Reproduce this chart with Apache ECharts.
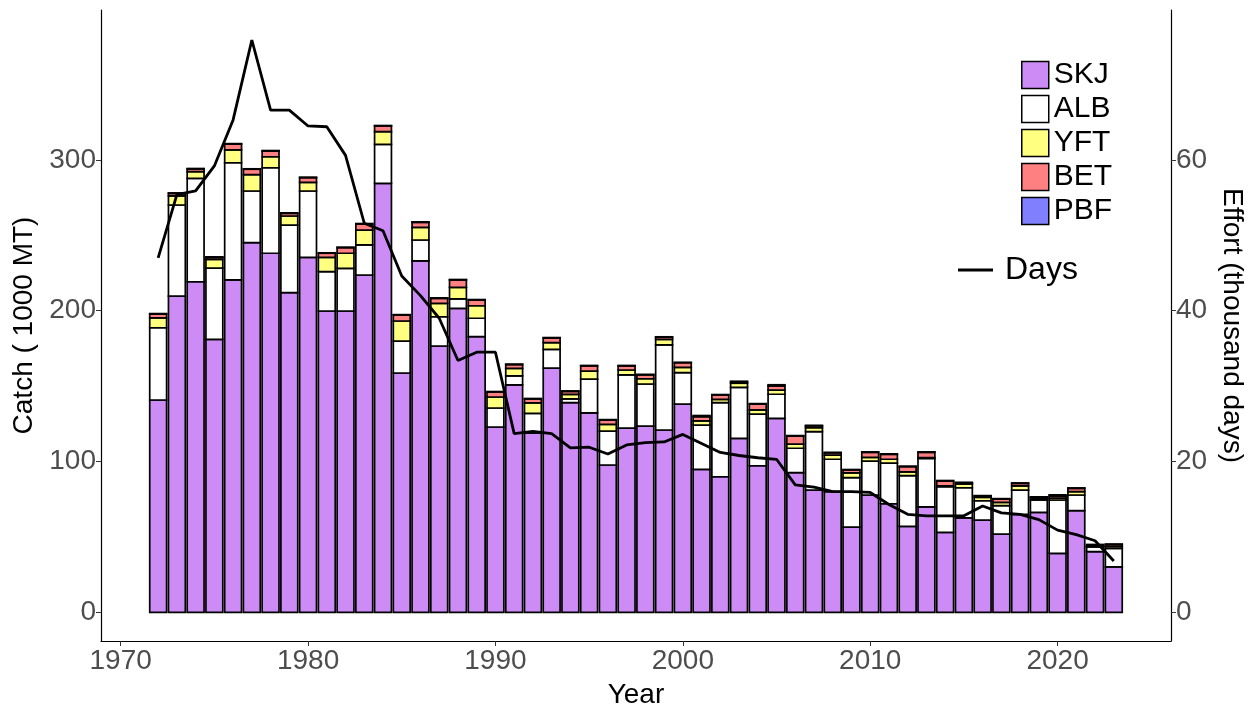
<!DOCTYPE html>
<html>
<head>
<meta charset="utf-8">
<script src="https://cdn.jsdelivr.net/npm/echarts@6/dist/echarts.min.js"></script>
<style>
  html, body { margin: 0; padding: 0; background: #fff; }
  #chart { width: 1254px; height: 716px; }
</style>
</head>
<body>
<div id="chart"></div>
<script>
// Catch by species (1000 MT) and fishing effort (thousand days), 1972-2023
const years = [];
for (let y = 1972; y <= 2023; y++) years.push(y);

const skj = [140.8, 209.7, 219.2, 181.0, 220.4, 245.1, 238.1, 212.0, 235.4, 199.8,
  199.8, 223.7, 284.5, 158.7, 233.0, 176.6, 201.6, 182.8, 122.9, 150.8,
  118.9, 162.0, 139.0, 132.2, 97.7, 122.2, 123.5, 120.9, 138.1, 94.8,
  89.9, 115.4, 97.2, 128.6, 92.6, 81.1, 80.0, 56.5, 77.8, 72.0,
  57.0, 70.0, 53.0, 62.7, 61.2, 51.9, 65.0, 66.3, 39.1, 67.4,
  40.2, 30.2];
const alb = [47.9, 60.4, 68.6, 47.3, 77.7, 34.3, 56.7, 44.8, 44.0, 26.1,
  28.3, 19.9, 25.8, 21.2, 13.9, 19.4, 6.2, 12.2, 12.6, 6.0,
  13.0, 12.4, 2.5, 22.5, 22.5, 35.2, 27.9, 56.4, 20.8, 29.4,
  49.1, 33.8, 34.3, 16.0, 16.2, 38.7, 21.5, 32.8, 22.5, 27.0,
  33.6, 32.0, 30.3, 19.9, 12.8, 18.8, 16.1, 8.2, 35.4, 10.4,
  3.2, 12.2];
const yft = [6.5, 6.0, 4.4, 5.8, 8.5, 10.8, 7.3, 6.0, 5.7, 9.5,
  10.0, 9.9, 8.4, 13.3, 8.4, 8.9, 7.7, 8.3, 7.3, 5.0,
  7.0, 4.5, 3.0, 5.3, 4.5, 3.3, 3.5, 3.7, 3.6, 2.7,
  2.2, 2.7, 2.7, 2.8, 2.8, 2.6, 2.8, 3.2, 2.5, 2.5,
  2.6, 0.6, 0.5, 2.5, 2.3, 2.2, 2.7, 0.8, 1.3, 2.2,
  0.4, 1.3];
const bet = [2.6, 1.7, 1.8, 1.3, 3.9, 3.6, 3.8, 1.8, 3.1, 2.7,
  3.7, 4.0, 3.8, 3.9, 3.3, 3.3, 4.9, 3.8, 3.3, 2.5,
  2.6, 3.0, 2.0, 3.4, 2.8, 2.7, 2.6, 1.4, 3.0, 2.8,
  2.9, 1.0, 3.9, 2.7, 5.3, 1.3, 1.5, 1.9, 3.3, 3.3,
  3.4, 3.5, 3.3, 0.8, 0.8, 2.2, 1.7, 1.0, 1.3, 2.2,
  0.4, 1.3];
const pbf = [0.3, 0.3, 0.3, 0.3, 0.3, 0.3, 0.3, 0.3, 0.3, 0.3,
  0.3, 0.3, 0.3, 0.3, 0.3, 0.3, 0.3, 0.3, 0.3, 0.3,
  0.3, 0.3, 0.3, 0.3, 0.3, 0.3, 0.3, 0.3, 0.3, 0.8,
  0.3, 0.3, 0.3, 0.8, 0.3, 0.3, 0.3, 0.3, 0.3, 0.3,
  0.3, 0.3, 0.3, 0.3, 0.3, 0.3, 0.3, 0.3, 0.8, 0.3,
  0.8, 0.3];
const days = [47.0, 55.4, 55.9, 59.2, 65.3, 75.9, 66.6, 66.6, 64.5, 64.4,
  60.6, 51.6, 50.6, 44.6, 42.0, 39.0, 33.4, 34.5, 34.5, 23.7,
  24.0, 23.7, 21.8, 21.9, 21.0, 22.2, 22.5, 22.6, 23.6, 22.4,
  21.2, 20.8, 20.5, 20.3, 16.9, 16.6, 16.0, 16.0, 15.9, 14.3,
  13.0, 12.8, 12.8, 12.8, 14.1, 13.2, 13.0, 12.3, 10.9, 10.3,
  9.5, 6.8];

const yearTicks = [1970, 1980, 1990, 2000, 2010, 2020];
const catchTicks = [0, 100, 200, 300];
const effortTicks = [0, 20, 40, 60];

const species = [
  { name: 'SKJ', values: skj, color: '#CD8BF5' },
  { name: 'ALB', values: alb, color: '#FFFFFF' },
  { name: 'YFT', values: yft, color: '#FFFF80' },
  { name: 'BET', values: bet, color: '#FF8080' },
  { name: 'PBF', values: pbf, color: '#8080FF' }
];

const FONT = '"Liberation Sans", Arial, sans-serif';
const tickGrey = '#4D4D4D';
const BAR_FRACTION = 0.9;
const OUTLINE = 1.7;

// Stack the species: each row holds [year, bottom, top]
const running = years.map(() => 0);
const barSeries = species.map(s => {
  const rows = years.map((y, i) => {
    const lo = running[i];
    const hi = lo + s.values[i];
    running[i] = hi;
    return [y, lo, hi];
  });
  return {
    name: s.name,
    type: 'custom',
    xAxisIndex: 0,
    yAxisIndex: 0,
    z: 2,
    itemStyle: { color: s.color, borderColor: '#000', borderWidth: OUTLINE },
    encode: { x: 0, y: [1, 2] },
    renderItem: (params, api) => {
      const x = api.value(0);
      const p0 = api.coord([x, api.value(1)]);
      const p1 = api.coord([x, api.value(2)]);
      const w = api.size([BAR_FRACTION, 0])[0];
      return {
        type: 'rect',
        shape: { x: p0[0] - w / 2, y: p1[1], width: w, height: p0[1] - p1[1] },
        style: { fill: s.color, stroke: '#000', lineWidth: OUTLINE }
      };
    },
    data: rows
  };
});

const chart = echarts.init(document.getElementById('chart'), null, { renderer: 'canvas' });
chart.setOption({
  animation: false,
  backgroundColor: '#fff',
  textStyle: { fontFamily: FONT },
  grid: { left: 101, right: 81, top: 10, bottom: 75, containLabel: false },
  xAxis: {
    type: 'value',
    min: 1968.95,
    max: 2026.05,
    name: 'Year',
    nameLocation: 'middle',
    nameGap: 40,
    nameTextStyle: { fontSize: 28, color: '#000', fontFamily: FONT },
    axisLine: { show: true, onZero: false, lineStyle: { color: '#000', width: 1.2 } },
    axisTick: { show: true, length: 5, lineStyle: { color: '#333' }, customValues: yearTicks },
    axisLabel: { fontSize: 28, color: tickGrey, margin: 6, customValues: yearTicks,
      fontFamily: FONT, formatter: v => String(v) },
    splitLine: { show: false }
  },
  yAxis: [
    {
      type: 'value',
      min: -19,
      max: 399.4,
      position: 'left',
      name: 'Catch ( 1000 MT)',
      nameLocation: 'middle',
      nameGap: 52,
      nameRotate: 90,
      nameTextStyle: { fontSize: 28, color: '#000', fontFamily: FONT },
      axisLine: { show: true, onZero: false, lineStyle: { color: '#000', width: 1.2 } },
      axisTick: { show: true, length: 5, lineStyle: { color: '#333' }, customValues: catchTicks },
      axisLabel: { fontSize: 28, color: tickGrey, margin: 5, customValues: catchTicks,
        fontFamily: FONT, formatter: v => String(v) },
      splitLine: { show: false }
    },
    {
      type: 'value',
      min: -3.8,
      max: 79.88,
      position: 'right',
      name: 'Effort (thousand days)',
      nameLocation: 'middle',
      nameGap: 35,
      nameRotate: -90,
      nameTextStyle: { fontSize: 28, color: '#000', fontFamily: FONT },
      axisLine: { show: true, onZero: false, lineStyle: { color: '#000', width: 1.2 } },
      axisTick: { show: true, length: 5, lineStyle: { color: '#333' }, customValues: effortTicks },
      axisLabel: { fontSize: 28, color: tickGrey, margin: 5, customValues: effortTicks,
        fontFamily: FONT, formatter: v => String(v) },
      splitLine: { show: false }
    }
  ],
  legend: [
    {
      data: species.map(s => s.name),
      orient: 'vertical',
      left: 1021,
      top: 60,
      padding: 0,
      itemWidth: 27,
      itemHeight: 27,
      itemGap: 4,
      icon: 'rect',
      itemStyle: { borderColor: '#000', borderWidth: 1.5 },
      textStyle: { fontSize: 30, color: '#000', fontFamily: FONT },
      selectedMode: false
    },
    {
      data: ['Days'],
      left: 958,
      top: 254,
      padding: 0,
      icon: 'rect',
      itemWidth: 35,
      itemHeight: 3,
      itemStyle: { color: '#000', borderWidth: 0 },
      textStyle: { fontSize: 32, color: '#000', fontFamily: FONT, padding: [0, 0, 0, 7] },
      selectedMode: false
    }
  ],
  series: [
    ...barSeries,
    {
      name: 'Days',
      type: 'line',
      xAxisIndex: 0,
      yAxisIndex: 1,
      showSymbol: false,
      symbol: 'none',
      z: 10,
      color: '#000',
      lineStyle: { color: '#000', width: 2.8 },
      emphasis: { disabled: true },
      data: years.map((y, i) => [y, days[i]])
    }
  ]
});
</script>
</body>
</html>
